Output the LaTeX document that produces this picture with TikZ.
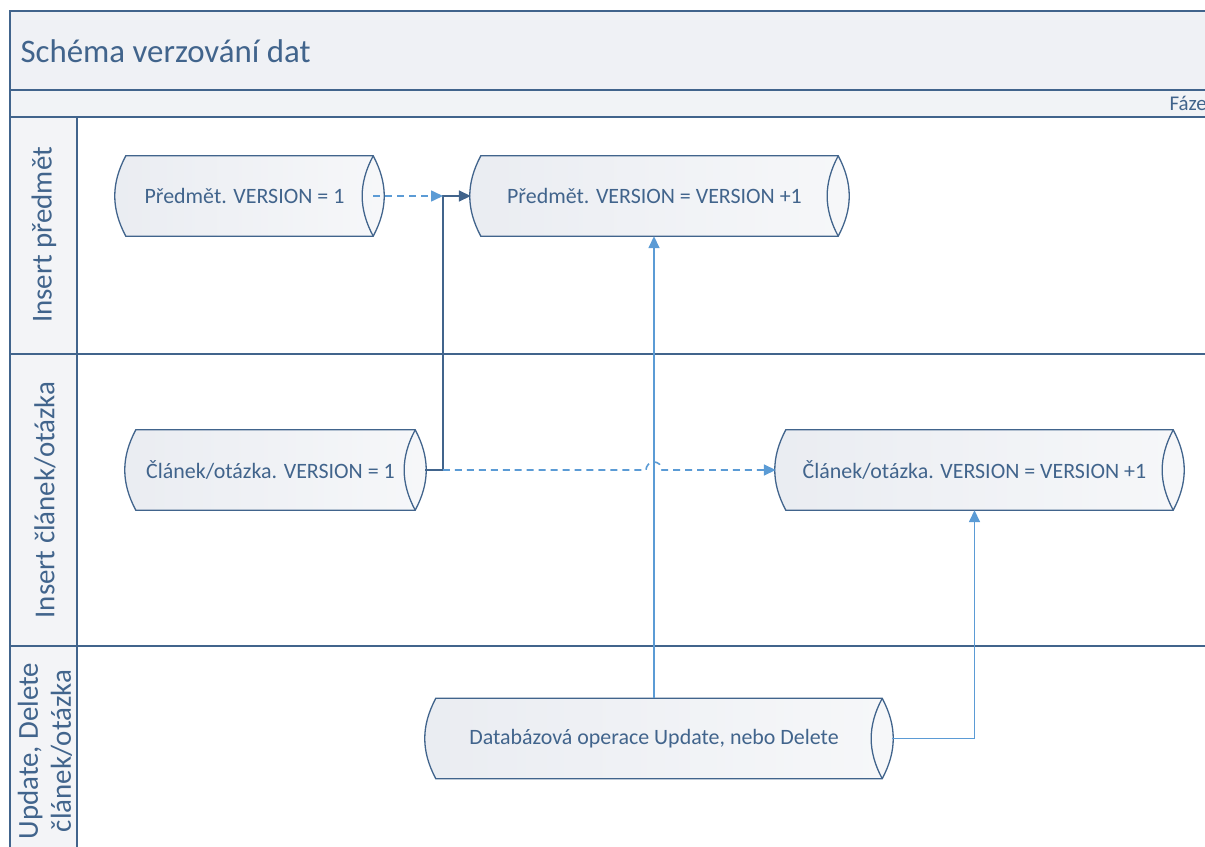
\documentclass[tikz,border=0pt]{standalone}
\usepackage{fontspec}
\setmainfont{Carlito}
\usetikzlibrary{arrows.meta,positioning,backgrounds}
\definecolor{lanecol}{HTML}{41648C}
\definecolor{linkcol}{HTML}{5B9BD5}
\definecolor{shadecol}{HTML}{E6E9EF}

\begin{document}
\begin{tikzpicture}
	[x=1bp,y=1bp,
	 frame/.style={draw=lanecol,line width=1.3pt},
	 store/.style={rectangle,minimum height=80bp,inner sep=0pt,text=lanecol,font=\fontsize{22}{26}\selectfont},
	 lanetitle/.style={rotate=90,text=lanecol,align=center,font=\fontsize{29}{33}\selectfont},
	 flow/.style={draw=lanecol,line width=1.6pt,-{Triangle[length=12pt,width=11pt]}},
	 dataflow/.style={draw=linkcol,line width=1.6pt,-{Triangle[length=12pt,width=11pt]}},
	 versionflow/.style={dataflow,dash pattern=on 7pt off 5pt}]
\clip (0,0) rectangle (1205,-847);
% swimlanes
\fill[shadecol!65] (10,-11) rectangle (1215,-90);
\fill[shadecol!55] (10,-90) rectangle (1215,-117);
\fill[shadecol!50] (10,-117) rectangle (77,-860);
\draw[frame] (1215,-11) -- (10,-11) -- (10,-860);
\draw[frame] (10,-90) -- (1215,-90) (10,-117) -- (1215,-117)
	(10,-354) -- (1215,-354) (10,-646) -- (1215,-646) (77,-117) -- (77,-860);
% headings
\node[anchor=base west,text=lanecol,font=\fontsize{33}{40}\selectfont] (title) at (17,-62) {Schéma verzování dat};
\node[anchor=base west,text=lanecol,font=\fontsize{21}{25}\selectfont] (phase) at (1166,-110) {Fáze};
\node[lanetitle] (lane1) at (44,-235) {Insert předmět};
\node[lanetitle] (lane2) at (45,-500) {Insert článek/otázka};
\node[lanetitle] (lane3) at (45,-751) {Update, Delete\\článek/otázka};
% data stores
\node[store,minimum width=237bp] (pv1) at (244.5,-196) {Předmět. VERSION = 1};
\node[store,minimum width=347bp] (pv2) at (654.5,-196) {Předmět. VERSION = VERSION +1};
\node[store,minimum width=269bp] (cv1) at (270.5,-470) {Článek/otázka. VERSION = 1};
\node[store,minimum width=377bp] (cv2) at (974.5,-470) {Článek/otázka. VERSION = VERSION +1};
\node[store,minimum width=436bp] (dbop) at (654,-738.5) {Databázová operace Update, nebo Delete};
\begin{scope}[on background layer]
\foreach \n in {pv1,pv2,cv1,cv2,dbop}
{
\shadedraw[frame,left color=shadecol!85,middle color=white,right color=shadecol!35] (\n.north west) to[bend right=28] (\n.south west)
	-- ([xshift=10bp]\n.south east) to[bend right=28] ([xshift=10bp]\n.north east) -- cycle;
\draw[frame] ([xshift=10bp]\n.north east) to[bend right=28] ([xshift=10bp]\n.south east);
}
\end{scope}
% connectors
\coordinate (merge) at (443,-196);
\coordinate (split) at (merge |- cv1.east);
\coordinate (hop) at (dbop.north |- cv1.east);
\draw[flow] ([xshift=20bp]cv1.east) -| (merge) -- ([xshift=-10bp]pv2.west);
\draw[versionflow] ([xshift=10bp]pv1.east) -- (merge);
\draw[versionflow] (split) -- ([xshift=-8bp]hop) arc[start angle=180,end angle=0,radius=8bp] -- ([xshift=-10bp]cv2.west);
\draw[dataflow] (dbop.north) -- (dbop.north |- pv2.south);
\draw[dataflow] ([xshift=20bp]dbop.east) -| (cv2.south);
\end{tikzpicture}
\end{document}
